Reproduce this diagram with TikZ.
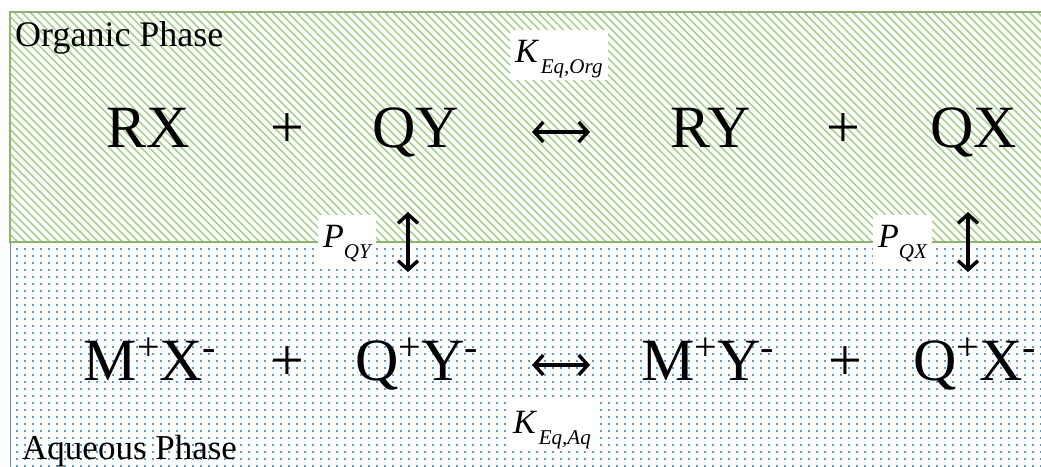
\documentclass[tikz,border=0pt]{standalone}
\usepackage{fontspec}
\setmainfont{Liberation Serif}
\usetikzlibrary{patterns,patterns.meta,arrows.meta}
\definecolor{hatchgreen}{RGB}{169,209,142}
\definecolor{bordergreen}{RGB}{140,180,110}
\definecolor{dotblue}{RGB}{91,155,213}
\definecolor{borderblue}{RGB}{91,140,200}
\pgfdeclarepatternformonly{bluedots}{\pgfpointorigin}{\pgfpoint{8pt}{7pt}}{\pgfpoint{8pt}{7pt}}{\pgfpathrectangle{\pgfpointorigin}{\pgfpoint{2.2pt}{2.2pt}}\pgfusepath{fill}}
\newcommand{\ionup}[1]{\raisebox{20pt}{\fontsize{40}{40}\selectfont #1}}
\newcommand{\subtxt}[1]{\raisebox{-11pt}{\fontsize{21}{21}\selectfont #1}}
\begin{document}
\begin{tikzpicture}[x=1pt,y=-1pt,
 species/.style={anchor=base, inner sep=0pt, font=\fontsize{60}{60}\selectfont},
 phase/.style={anchor=base west, inner sep=0pt, font=\fontsize{36}{36}\selectfont},
 konst/.style={anchor=base west, fill=white, inner xsep=5pt, inner ysep=0pt, text height=32pt, text depth=18pt, font=\fontsize{34}{34}\selectfont\itshape},
 eqarrow/.style={line width=3.4pt, {Straight Barb[length=9pt,width=20pt]}-{Straight Barb[length=9pt,width=20pt]}},
]
\useasboundingbox (0,0) rectangle (1041,466);
\fill[white] (0,0) rectangle (1041,466);
\path[pattern=bluedots, pattern color=dotblue] (10,242) rectangle (1050,470);
\draw[borderblue, line width=1pt] (10,470) -- (10,242);
\path[pattern={Lines[angle=-45,distance=5.7pt,line width=1.6pt]}, pattern color=hatchgreen] (10,12) rectangle (1050,242);
\draw[bordergreen, line width=1.2pt] (1050,12) -- (10,12) -- (10,242) -- (1050,242);

\node[phase] (org) at (15,46) {Organic Phase};
\node[phase, font=\fontsize{35}{35}\selectfont] (aq) at (22,459) {Aqueous Phase};

\node[species] (rx) at (148.5,147) {RX};
\node[species] (p1) at (287,147) {+};
\node[species] (qy) at (416,147) {QY};
\node[species] (ry) at (710.5,147) {RY};
\node[species] (p2) at (843,147) {+};
\node[species] (qx) at (973.5,147) {QX};

\node[species] (mx) at (150,380) {M\ionup{+}X\ionup{-}};
\node[species] (p3) at (287,380) {+};
\node[species] (qyi) at (416.5,380) {Q\ionup{+}Y\ionup{-}};
\node[species] (myi) at (707.5,380) {M\ionup{+}Y\ionup{-}};
\node[species] (p4) at (845,380) {+};
\node[species] (qxi) at (974.5,380) {Q\ionup{+}X\ionup{-}};

\coordinate (eqOrgL) at (532,132);
\coordinate (eqOrgR) at (590,132);
\coordinate (eqAqL) at (532,365);
\coordinate (eqAqR) at (590,365);
\coordinate (pqyT) at (408,212);
\coordinate (pqyB) at (408,272);
\coordinate (pqxT) at (968,212);
\coordinate (pqxB) at (968,272);
\draw[eqarrow] (eqOrgL) -- (eqOrgR);
\draw[eqarrow] (eqAqL) -- (eqAqR);

\node[konst] (kOrg) at (510,62) {K\kern3pt\subtxt{Eq,Org}};
\node[konst] (kAq) at (508,433) {K\kern3pt\subtxt{Eq,Aq}};
\node[konst] (pqy) at (318,247) {P\subtxt{QY}};
\node[konst] (pqx) at (873,247) {P\subtxt{QX}};

\draw[eqarrow] (pqyT) -- (pqyB);
\draw[eqarrow] (pqxT) -- (pqxB);
\end{tikzpicture}
\end{document}
